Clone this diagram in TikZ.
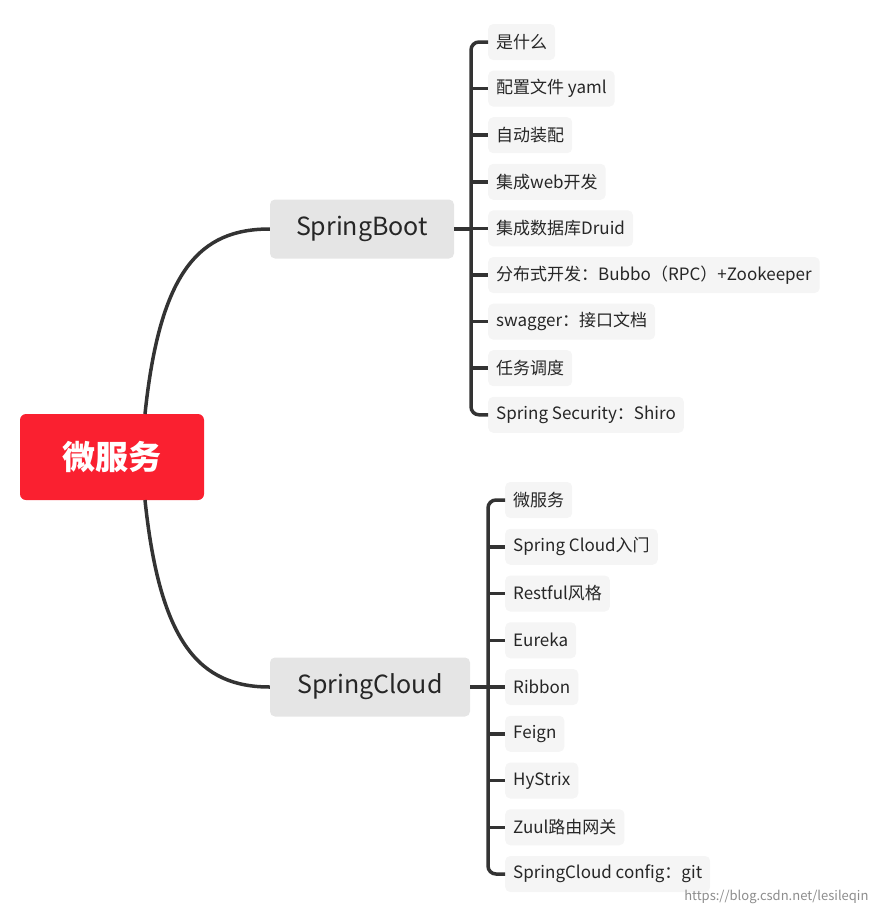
\documentclass[tikz,border=0pt]{standalone}
\usepackage{fontspec}
\setmainfont{Noto Sans CJK SC}
\begin{document}
\begin{tikzpicture}[x=1pt,y=-1pt,
  conn/.style={line width=3.5pt,draw=black!80},
  leaf/.style={anchor=west,fill=black!4,rounded corners=5pt,minimum height=36pt,inner xsep=8pt,font=\fontsize{17}{19}\selectfont,text=black!85},
  mid/.style={fill=black!10,rounded corners=5pt,minimum height=59pt,font=\fontsize{25}{28}\selectfont,text=black!85}]
\useasboundingbox (0,0) rectangle (877,913);
\node[fill={rgb,255:red,250;green,32;blue,48},rounded corners=6pt,minimum width=184pt,minimum height=86pt,text=white,font=\bfseries\fontsize{33}{36}\selectfont] (root) at (112,457) {微服务};
\node[mid,minimum width=184pt] (sb) at (362,229) {SpringBoot};
\node[mid,minimum width=200pt] (sc) at (370,687) {SpringCloud};
\draw[conn] (145,414) .. controls (160,270) and (200,229) .. (sb.west);
\draw[conn] (145,500) .. controls (160,644) and (200,687) .. (sc.west);
\foreach \t [count=\i] in {是什么,配置文件 yaml,自动装配,集成web开发,集成数据库Druid,分布式开发：Bubbo（RPC）+Zookeeper,swagger：接口文档,任务调度,Spring Security：Shiro}{
  \node[leaf] (b\i) at (488,{42+46.6*(\i-1)}) {\t};}
\foreach \t [count=\i] in {微服务,Spring Cloud入门,Restful风格,Eureka,Ribbon,Feign,HyStrix,Zuul路由网关,SpringCloud config：git}{
  \node[leaf] (c\i) at (505,{500+46.75*(\i-1)}) {\t};}
\draw[conn,rounded corners=8pt] (b1.west) -| (471,229) |- (b9.west);
\draw[conn] (sb.east) -- (471,229);
\foreach \i in {2,...,8}{\draw[conn] (471,0|-b\i.west) -- (b\i.west);}
\draw[conn,rounded corners=8pt] (c1.west) -| (488,687) |- (c9.west);
\draw[conn] (sc.east) -- (488,687);
\foreach \i in {2,...,8}{\draw[conn] (488,0|-c\i.west) -- (c\i.west);}
\node[anchor=east,text=black!45,font=\fontsize{13}{15}\selectfont] (wm) at (872,897) {https://blog.csdn.net/lesileqin};
\end{tikzpicture}
\end{document}
